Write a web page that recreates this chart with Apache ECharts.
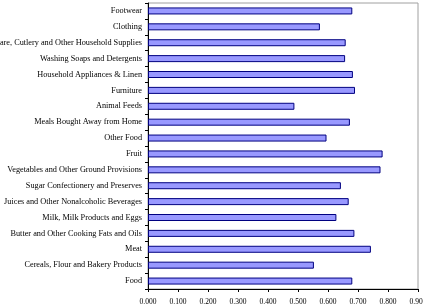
<!DOCTYPE html>
<html><head><meta charset="utf-8">
<script src="https://cdn.jsdelivr.net/npm/echarts@6/dist/echarts.min.js"></script>
<style>html,body{margin:0;padding:0;background:#fff}#c{width:423px;height:308px}</style>
</head><body><div id="c"></div>
<script>
const categories = [
  "Food",
  "Cereals, Flour and Bakery Products",
  "Meat",
  "Butter and Other Cooking Fats and Oils",
  "Milk, Milk Products and Eggs",
  "Juices and Other Nonalcoholic Beverages",
  "Sugar Confectionery and Preserves",
  "Vegetables and Other Ground Provisions",
  "Fruit",
  "Other Food",
  "Meals Bought Away from Home",
  "Animal Feeds",
  "Furniture",
  "Household Appliances & Linen",
  "Washing Soaps and Detergents",
  "Tableware, Cutlery and Other Household Supplies",
  "Clothing",
  "Footwear"
];
const values = [0.681, 0.553, 0.743, 0.688, 0.628, 0.669, 0.643, 0.775, 0.782, 0.595, 0.673, 0.488, 0.690, 0.683, 0.657, 0.659, 0.573, 0.681];
const xTicks = { min: 0, max: 0.9, interval: 0.1 };

const chart = echarts.init(document.getElementById('c'), null, { renderer: 'canvas' });
chart.setOption({
  animation: false,
  grid: { left: 148, right: 5, top: 3, bottom: 19, show: true, borderColor: '#a0a0a0', borderWidth: 1, containLabel: false, outerBoundsMode: 'none' },
  xAxis: {
    type: 'value', min: xTicks.min, max: xTicks.max, interval: xTicks.interval,
    axisLine: { show: true, lineStyle: { color: '#000', width: 1 } },
    axisTick: { show: true, length: 3, lineStyle: { color: '#000' } },
    splitLine: { show: false },
    axisLabel: { fontFamily: 'Liberation Serif', fontSize: 7.5, color: '#000', margin: 9, formatter: v => v.toFixed(3), hideOverlap: false }
  },
  yAxis: {
    type: 'category', data: categories,
    axisLine: { show: true, lineStyle: { color: '#000', width: 1 } },
    axisTick: { show: true, length: 3, lineStyle: { color: '#000' } },
    axisLabel: { fontFamily: 'Liberation Serif', fontSize: 8.25, color: '#000', margin: 6, interval: 0 }
  },
  series: [{
    type: 'bar', data: values, barWidth: 7,
    itemStyle: { color: '#9999ff', borderColor: '#000080', borderWidth: 1 }
  }]
});
</script></body></html>
